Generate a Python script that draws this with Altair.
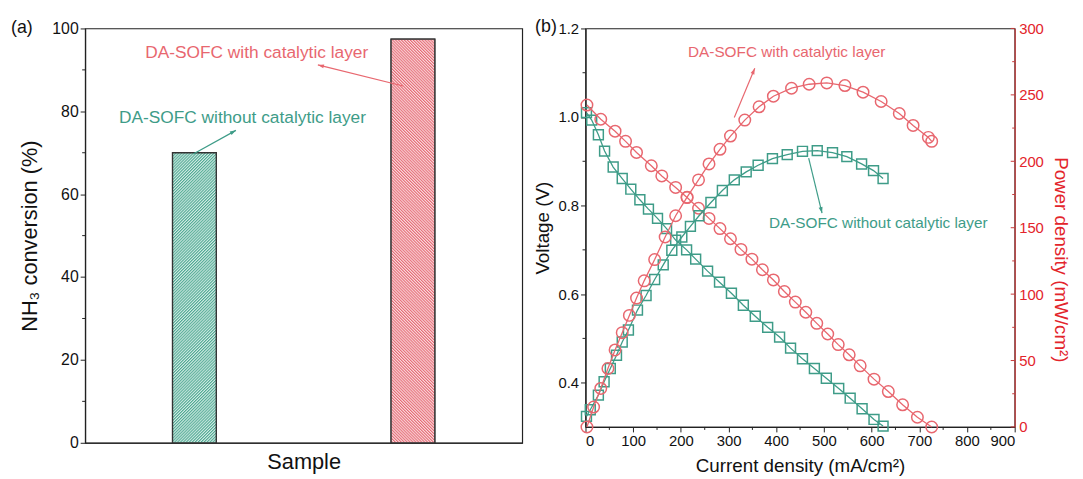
import math
import base64
import altair as alt
import pandas as pd

# ---------------- data ----------------
# Panel (a): NH3 conversion
bar_pos = [1, 3]
conversion = [70.0, 97.4]

# Panel (b): DA-SOFC with catalytic layer (red circles)
red_v_x = [3, 32, 62, 84, 107, 138, 160, 189, 213, 237, 259, 282, 304, 326, 349,
           371, 394, 417, 440, 462, 485, 508, 530, 553, 576, 605, 635, 665, 696, 726]
red_v_y = [1.027, 0.995, 0.968, 0.945, 0.920, 0.890, 0.867, 0.841, 0.818, 0.794,
           0.771, 0.748, 0.725, 0.701, 0.679, 0.655, 0.632, 0.606, 0.582, 0.559,
           0.534, 0.510, 0.486, 0.463, 0.438, 0.408, 0.380, 0.350, 0.322, 0.300]
red_p_x = [3, 17, 32, 47, 62, 77, 92, 107, 123, 145, 167, 189, 213, 237, 259, 282,
           304, 334, 364, 394, 432, 469, 506, 544, 582, 620, 658, 687, 719, 726]
red_p_y = [0, 15, 29, 44, 58, 71, 84, 97, 110, 126, 143, 159, 173, 186, 198, 209,
           219, 231, 241, 249, 255, 258, 259, 257, 252, 245, 236, 227, 218, 215]

# Panel (b): DA-SOFC without catalytic layer (green squares)
green_v_x = [2, 13, 27, 40, 58, 77, 95, 114, 132, 151, 170, 189, 212, 231, 256,
             281, 306, 331, 356, 382, 407, 430, 455, 480, 505, 531, 555, 580, 605, 624]
green_v_y = [1.010, 0.993, 0.960, 0.923, 0.887, 0.861, 0.837, 0.813, 0.792, 0.771,
             0.748, 0.722, 0.700, 0.679, 0.652, 0.627, 0.602, 0.575, 0.550, 0.525,
             0.503, 0.478, 0.454, 0.432, 0.410, 0.387, 0.365, 0.341, 0.317, 0.302]
green_p_x = [2, 10, 27, 39, 52, 65, 77, 90, 109, 127, 145, 163, 181, 202, 220, 238,
             263, 287, 312, 337, 362, 392, 423, 455, 486, 518, 548, 579, 604, 624]
green_p_y = [8, 13, 24, 34, 44, 54, 64, 73, 88, 99, 111, 122, 133, 143, 151, 159,
             169, 178, 186, 192, 197, 202, 205, 207.5, 208, 206.5, 203.5, 198, 193, 187]

# annotations (data coordinates)
label_with = "DA-SOFC with catalytic layer"
label_without = "DA-SOFC without catalytic layer"
ann_a_text = [(label_with, 1.57, 94.0, "red"), (label_without, 1.44, 78.3, "green")]
ann_a_arrow = [(2.91, 86.1, 2.13, 91.2, "red"), (0.99, 69.7, 1.38, 75.4, "green")]
ann_b_text = [(label_with, 422, 1.146, "red"), (label_without, 614, 0.760, "green")]
ann_b_arrow = [(312, 0.999, 355, 1.110, "red"), (468, 0.907, 496, 0.783, "green")]

# ---------------- style ----------------
FONT = "Liberation Sans"
RED = "#E8676F"
GREEN = "#3E9C88"
COL = {"red": RED, "green": GREEN}
AXRED = "#E3242B"
LW, LH = 442, 419
RW, RH = 434, 403
BAR_HALF = 0.2
ARROW_PATH = "M0,0L-0.33,1L0.33,1Z"


def hatch_image(w, h, dark, light, rot, period=2.1):
    svg = (
        f"<svg xmlns='http://www.w3.org/2000/svg' width='{w:.2f}' height='{h:.2f}' "
        f"viewBox='0 0 {w:.2f} {h:.2f}' preserveAspectRatio='none'>"
        f"<defs><pattern id='p' width='{period}' height='{period}' patternUnits='userSpaceOnUse' "
        f"patternTransform='rotate({rot})'><rect width='{period / 2}' height='{period}' "
        f"fill='{dark}'/></pattern></defs>"
        f"<rect width='100%' height='100%' fill='{light}'/>"
        f"<rect width='100%' height='100%' fill='url(#p)'/></svg>"
    )
    return "data:image/svg+xml;base64," + base64.b64encode(svg.encode()).decode()


def arrow_layers(arrows, X, Y, sx, sy, xf, yf):
    layers = []
    for (x0, y0, x1, y1, c) in arrows:
        df = pd.DataFrame({xf: [x0], yf: [y0], xf + "2": [x1], yf + "2": [y1]})
        dx = (x1 - x0) * sx
        dy = -(y1 - y0) * sy
        ang = math.degrees(math.atan2(dx, -dy)) % 360
        layers.append(alt.Chart(df).mark_rule(color=COL[c], strokeWidth=1.2).encode(
            x=X, y=Y, x2=alt.X2(xf + "2:Q"), y2=alt.Y2(yf + "2:Q")))
        head = pd.DataFrame({xf: [x1], yf: [y1]})
        layers.append(alt.Chart(head).mark_point(
            shape=ARROW_PATH, size=150, filled=True, color=COL[c], opacity=1,
            angle=ang).encode(x=X, y=Y))
    return layers


def text_layers(items, X, Y, xf, yf, fs):
    layers = []
    for (t, x, y, c) in items:
        df = pd.DataFrame({xf: [x], yf: [y], "t": [t]})
        layers.append(alt.Chart(df).mark_text(
            color=COL[c], fontSize=fs, font=FONT, align="center", baseline="middle"
        ).encode(x=X, y=Y, text="t:N"))
    return layers


# ---------------- panel (a) ----------------
Xa = alt.X("pos:Q", scale=alt.Scale(domain=[0, 4], nice=False, zero=False),
           axis=alt.Axis(title="Sample", labels=False, ticks=False, titleFontSize=22,
                         titlePadding=9))
Ya = alt.Y("val:Q", scale=alt.Scale(domain=[0, 100], nice=False),
           axis=alt.Axis(title="NH₃ conversion (%)", values=[0, 20, 40, 60, 80, 100],
                         format="d", tickSize=5, labelFontSize=16, titleFontSize=22,
                         titlePadding=10))

bar_w_px = 2 * BAR_HALF * LW / 4
a_layers = []
styles = [("#4FA892", "#D2ECE5", "#93CBBE", 45), ("#E56B75", "#FADADD", "#F0A2A8", -45)]
for p, v, (dk, lt, mid, rot) in zip(bar_pos, conversion, styles):
    df = pd.DataFrame({"pos": [p - BAR_HALF], "pos2": [p + BAR_HALF], "val": [v]})
    a_layers.append(alt.Chart(df).mark_bar(fill=mid, stroke="#333333", strokeWidth=1.3).encode(
        x=Xa, x2=alt.X2("pos2:Q"), y=Ya, y2=alt.datum(0)))
    img = pd.DataFrame({"pos": [p], "val": [0],
                        "u": [hatch_image(bar_w_px, v / 100 * LH, dk, lt, rot)]})
    a_layers.append(alt.Chart(img).mark_image(
        width=bar_w_px, height=v / 100 * LH, aspect=False, align="center",
        baseline="bottom").encode(x=Xa, y=Ya, url="u:N"))
    a_layers.append(alt.Chart(df).mark_bar(fillOpacity=0, stroke="#333333", strokeWidth=1.3).encode(
        x=Xa, x2=alt.X2("pos2:Q"), y=Ya, y2=alt.datum(0)))

minor_a = pd.DataFrame({"val": [10, 30, 50, 70, 90]})
a_layers.append(alt.Chart(minor_a).mark_rule(color="#222222", strokeWidth=1).encode(
    x=alt.value(0), x2=alt.value(-3), y=Ya))
a_layers += text_layers(ann_a_text, Xa, Ya, "pos", "val", 17.5)
a_layers += arrow_layers(ann_a_arrow, Xa, Ya, LW / 4, LH / 100, "pos", "val")
a_layers.append(alt.Chart(pd.DataFrame({"t": ["(a)"]})).mark_text(
    align="left", baseline="middle", fontSize=18, font=FONT, color="#111111").encode(
    x=alt.value(-75), y=alt.value(0), text="t:N"))

panel_a = alt.layer(*a_layers).properties(width=LW, height=LH)

# ---------------- panel (b) ----------------
Xb = alt.X("x:Q", scale=alt.Scale(domain=[0, 900], nice=False),
           axis=alt.Axis(title="Current density (mA/cm²)", values=list(range(0, 901, 100)),
                         tickSize=5, labelFontSize=15, titleFontSize=19, titlePadding=8))
Yv = alt.Y("v:Q", scale=alt.Scale(domain=[0.3, 1.2], nice=False, zero=False),
           axis=alt.Axis(title="Voltage (V)", orient="left", values=[0.4, 0.6, 0.8, 1.0, 1.2],
                         format=".1f", tickSize=5, labelFontSize=15, titleFontSize=19,
                         titlePadding=6))
Yp = alt.Y("p:Q", scale=alt.Scale(domain=[0, 300], nice=False),
           axis=alt.Axis(title="Power density (mW/cm²)", orient="right",
                         values=list(range(0, 301, 50)), ticks=False, labelPadding=4,
                         labelColor=AXRED, titleColor=AXRED, domainColor="#C83A3A",
                         labelFontSize=15, titleFontSize=19, titlePadding=7,
                         titleY=RH / 2 + 32))


def series(xs, ys, yf, Y, color, shape, size):
    df = pd.DataFrame({"x": xs, yf: ys})
    line = alt.Chart(df).mark_line(color=color, strokeWidth=1.3).encode(x=Xb, y=Y)
    pts = alt.Chart(df).mark_point(shape=shape, size=size, filled=False, color=color,
                                   strokeWidth=1.5, opacity=1).encode(x=Xb, y=Y)
    return [line, pts]


v_layers = []
v_layers += series(green_v_x, green_v_y, "v", Yv, GREEN, "square", 100)
v_layers += series(red_v_x, red_v_y, "v", Yv, RED, "circle", 135)
v_layers.append(alt.Chart(pd.DataFrame({"v": [0.5, 0.7, 0.9, 1.1]})).mark_rule(
    color="#222222", strokeWidth=1).encode(x=alt.value(0), x2=alt.value(-3), y=Yv))
v_layers.append(alt.Chart(pd.DataFrame({"x": list(range(50, 900, 100))})).mark_rule(
    color="#222222", strokeWidth=1).encode(x=Xb, y=alt.value(RH), y2=alt.value(RH + 3)))
v_layers += text_layers(ann_b_text, Xb, Yv, "x", "v", 15.5)
v_layers += arrow_layers(ann_b_arrow, Xb, Yv, RW / 900, RH / 0.9, "x", "v")
v_layers.append(alt.Chart(pd.DataFrame({"t": ["(b)"]})).mark_text(
    align="left", baseline="middle", fontSize=18, font=FONT, color="#111111").encode(
    x=alt.value(-51), y=alt.value(-1), text="t:N"))

p_layers = []
p_layers += series(green_p_x, green_p_y, "p", Yp, GREEN, "square", 100)
p_layers += series(red_p_x, red_p_y, "p", Yp, RED, "circle", 135)
p_layers.append(alt.Chart(pd.DataFrame({"p": list(range(0, 301, 50))})).mark_rule(
    color="#C83A3A", strokeWidth=1).encode(x=alt.value(RW), x2=alt.value(RW - 4), y=Yp))
p_layers.append(alt.Chart(pd.DataFrame({"p": list(range(25, 300, 50))})).mark_rule(
    color="#C83A3A", strokeWidth=1).encode(x=alt.value(RW), x2=alt.value(RW - 2.5), y=Yp))

panel_b = alt.layer(alt.layer(*v_layers), alt.layer(*p_layers)).resolve_scale(
    y="independent").properties(width=RW, height=RH)

chart = alt.hconcat(panel_a, panel_b, spacing=64, bounds="flush").properties(
    padding={"left": 2, "top": 7, "right": 5, "bottom": 5}
).configure_view(stroke="#222222", strokeWidth=1.2).configure_axis(
    grid=False, domainColor="#222222", domainWidth=1.2, tickColor="#222222",
    labelColor="#111111", titleColor="#111111", labelFont=FONT, titleFont=FONT,
    titleFontWeight="normal", labelPadding=2
)

chart.save("out.html", embed_options={"renderer": "svg", "actions": False})
